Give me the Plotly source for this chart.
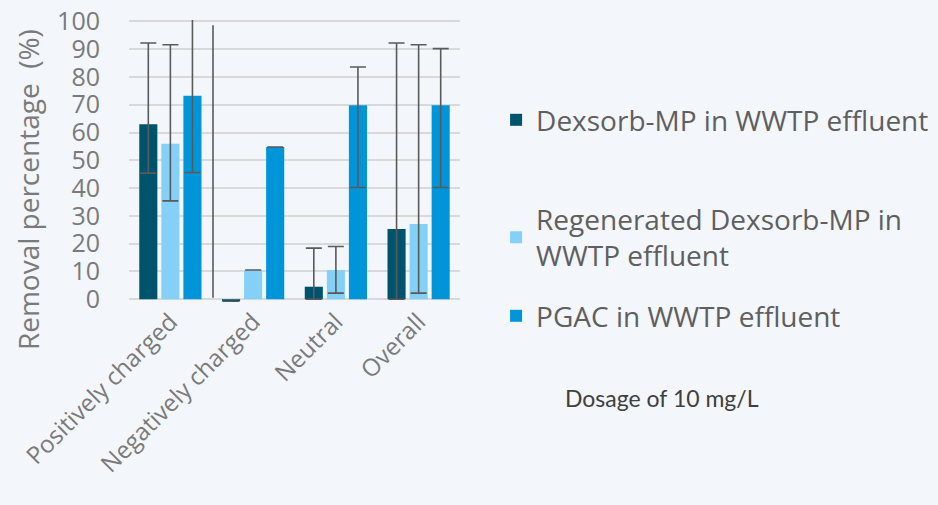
import plotly.graph_objects as go

categories = ["Positively charged", "Negatively charged", "Neutral", "Overall"]
series_names = ["Dexsorb-MP in WWTP effluent",
                "Regenerated Dexsorb-MP in<br>WWTP effluent",
                "PGAC in WWTP effluent"]
dexsorb = [63, -0.8, 4.5, 25.3]
dexsorb_hi = [92.2, -0.8, 18.4, 92.2]
dexsorb_lo = [45.4, -0.8, 0, 0]
regen = [56, 10.5, 10.5, 27.1]
regen_hi = [91.6, 10.5, 19, 91.6]
regen_lo = [35.4, 10.5, 2.2, 2.2]
pgac = [73.2, 54.8, 69.8, 69.8]
pgac_hi = [103, 54.8, 83.6, 90.2]
pgac_lo = [45.6, 54.8, 40.2, 40.2]
stray_x = [0.515, 0.515]
stray_y = [0.5, 98.6]

colors = ["#00536d", "#84d0f6", "#0095d8"]
y_ticks = list(range(0, 101, 10))
bg = "#f3f6fb"

fig = go.Figure()
vals = [(dexsorb, dexsorb_hi, dexsorb_lo), (regen, regen_hi, regen_lo), (pgac, pgac_hi, pgac_lo)]
legends = ["legend", "legend2", "legend3"]
for i, (v, hi, lo) in enumerate(vals):
    fig.add_trace(go.Bar(
        x=categories, y=v, name=series_names[i], marker_color=colors[i],
        marker_line_width=0, legend=legends[i],
        error_y=dict(type="data", symmetric=False,
                     array=[h - a for h, a in zip(hi, v)],
                     arrayminus=[a - l for a, l in zip(v, lo)],
                     color="#5a5a5a", thickness=1.6, width=8),
    ))

fig.add_trace(go.Scatter(x=stray_x, y=stray_y, mode="lines", xaxis="x2",
                         line=dict(color="#5a5a5a", width=1.6), showlegend=False,
                         hoverinfo="skip"))

font_family = "Open Sans, Segoe UI, sans-serif"
legend_common = dict(font=dict(family=font_family, size=28, color="#5f5f5f"),
                     bgcolor="rgba(0,0,0,0)", xref="paper", yref="paper",
                     xanchor="left", yanchor="middle", itemwidth=30)
fig.update_layout(
    width=938, height=505,
    paper_bgcolor=bg, plot_bgcolor=bg,
    margin=dict(l=129, r=478, t=20, b=203, autoexpand=False),
    barmode="group", bargap=0.2, bargroupgap=0.18,
    showlegend=True,
    legend=dict(**legend_common, x=1.109, y=0.645),
    legend2=dict(**legend_common, x=1.109, y=0.229),
    legend3=dict(**legend_common, x=1.109, y=-0.05),
    xaxis=dict(type="category", tickangle=-45, showgrid=False, showline=False,
               ticks="", range=[-0.5, 3.5],
               tickfont=dict(family=font_family, size=24, color="#7a7a7a")),
    xaxis2=dict(overlaying="x", range=[-0.5, 3.5], visible=False),
    yaxis=dict(range=[-1, 100.5], tickvals=y_ticks, showgrid=True,
               gridcolor="#d9d9d9", gridwidth=1.5, zeroline=True,
               zerolinecolor="#d9d9d9", zerolinewidth=1.5, ticks="",
               ticklabelstandoff=28,
               tickfont=dict(family=font_family, size=25, color="#7a7a7a")),
    annotations=[
        dict(text="Removal percentage  (%)", xref="paper", yref="paper",
             x=-0.305, y=0.397, xanchor="center", yanchor="middle",
             textangle=-90, showarrow=False,
             font=dict(family=font_family, size=28, color="#7a7a7a")),
        dict(text="Dosage of 10 mg/L", xref="paper", yref="paper",
             x=1.311, y=-0.34, xanchor="left", yanchor="middle",
             showarrow=False,
             font=dict(family="Lato, sans-serif", size=23, color="#404040"))],
)

fig.write_html("out.html", config={"displayModeBar": False}, post_script=(
    "document.body.style.margin='0';document.body.style.padding='0';"
    "document.body.style.background='" + bg + "';"
    "document.documentElement.style.background='" + bg + "';"))
